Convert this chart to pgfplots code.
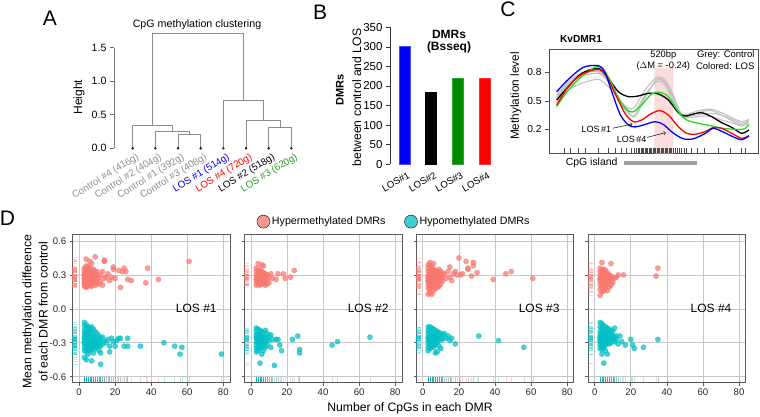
\documentclass[border=0pt]{standalone}
\usepackage{pgfplots}
\pgfplotsset{compat=1.18}
\usepackage{pgfplotstable}
\usepackage{fontspec}
\setmainfont{Liberation Sans}
\definecolor{hypc}{HTML}{F8766D}
\definecolor{hypo}{HTML}{00BFC4}
\definecolor{ctrlgray}{HTML}{8C8C8C}
\definecolor{dgreen}{HTML}{008A00}
\definecolor{lgreen}{HTML}{2A9A2A}
\definecolor{cgreen}{HTML}{22DD22}
\definecolor{linegray}{HTML}{C2C2C2}
\definecolor{pinkbg}{HTML}{FBDCDC}
\newcommand{\fs}[1]{\fontsize{#1}{#1}\selectfont}

% ---------- Panel D data: hyper (h) and hypo (o) for LOS #1..#4 ----------
\pgfplotstableread[row sep=\\]{x y\\
3 0.20\\3 0.22\\3 0.24\\3 0.26\\3 0.28\\3 0.30\\3 0.32\\3 0.34\\3 0.23\\3 0.27\\3 0.31\\3 0.36\\
4 0.19\\4 0.21\\4 0.25\\4 0.27\\4 0.29\\4 0.33\\4 0.35\\4 0.38\\4 0.24\\4 0.30\\4 0.44\\
5 0.20\\5 0.22\\5 0.26\\5 0.28\\5 0.31\\5 0.34\\5 0.37\\5 0.24\\5 0.29\\5 0.32\\
6 0.21\\6 0.23\\6 0.25\\6 0.28\\6 0.30\\6 0.33\\6 0.36\\6 0.27\\6 0.42\\
7 0.20\\7 0.24\\7 0.27\\7 0.29\\7 0.32\\7 0.35\\7 0.40\\
8 0.22\\8 0.26\\8 0.28\\8 0.31\\8 0.35\\8 0.25\\
9 0.21\\9 0.25\\9 0.29\\9 0.33\\9 0.46\\
10 0.23\\10 0.27\\10 0.30\\10 0.33\\
11 0.28\\11 0.22\\12 0.24\\12 0.30\\13 0.21\\13 0.33\\14 0.43\\14 0.42\\14 0.27\\15 0.28\\
16 0.31\\17 0.25\\18 0.28\\19 0.37\\19 0.35\\20 0.27\\22 0.34\\23 0.19\\24 0.33\\25 0.36\\
26 0.33\\27 0.26\\29 0.25\\37 0.23\\38 0.36\\44 0.26\\61 0.42\\
}\hA
\pgfplotstableread[row sep=\\]{x y\\
3 -0.12\\3 -0.15\\3 -0.19\\3 -0.22\\3 -0.25\\3 -0.28\\3 -0.31\\3 -0.34\\3 -0.37\\3 -0.43\\3 -0.26\\3 -0.30\\
4 -0.14\\4 -0.18\\4 -0.21\\4 -0.24\\4 -0.27\\4 -0.29\\4 -0.32\\4 -0.35\\4 -0.38\\4 -0.45\\4 -0.23\\
5 -0.16\\5 -0.20\\5 -0.23\\5 -0.26\\5 -0.28\\5 -0.31\\5 -0.33\\5 -0.36\\5 -0.40\\5 -0.25\\
6 -0.17\\6 -0.19\\6 -0.22\\6 -0.27\\6 -0.30\\6 -0.34\\6 -0.37\\6 -0.29\\
7 -0.16\\7 -0.21\\7 -0.25\\7 -0.28\\7 -0.32\\7 -0.36\\7 -0.46\\
8 -0.18\\8 -0.24\\8 -0.27\\8 -0.30\\8 -0.33\\8 -0.39\\
9 -0.20\\9 -0.25\\9 -0.29\\9 -0.31\\9 -0.35\\
10 -0.22\\10 -0.27\\10 -0.30\\10 -0.34\\
11 -0.24\\11 -0.28\\11 -0.32\\11 -0.37\\
12 -0.26\\12 -0.29\\12 -0.33\\12 -0.39\\12 -0.49\\
13 -0.25\\13 -0.31\\14 -0.28\\15 -0.30\\16 -0.27\\17 -0.38\\17 -0.33\\18 -0.26\\19 -0.29\\20 -0.33\\
21 -0.28\\22 -0.26\\23 -0.26\\25 -0.33\\27 -0.33\\27 -0.26\\34 -0.33\\47 -0.30\\53 -0.33\\56 -0.40\\
57 -0.34\\79 -0.40\\
}\oA
\pgfplotstableread[row sep=\\]{x y\\
3 0.21\\3 0.24\\3 0.27\\3 0.30\\3 0.33\\3 0.36\\3 0.26\\
4 0.22\\4 0.25\\4 0.28\\4 0.31\\4 0.34\\4 0.23\\4 0.40\\
5 0.21\\5 0.26\\5 0.29\\5 0.32\\5 0.35\\5 0.28\\
6 0.23\\6 0.27\\6 0.30\\6 0.33\\6 0.39\\
7 0.22\\7 0.25\\7 0.29\\7 0.32\\7 0.38\\
8 0.24\\8 0.28\\8 0.31\\8 0.21\\
9 0.26\\9 0.30\\9 0.22\\
10 0.23\\10 0.28\\
11 0.31\\12 0.27\\14 0.26\\15 0.31\\18 0.31\\19 0.27\\22 0.28\\24 0.34\\
}\hB
\pgfplotstableread[row sep=\\]{x y\\
3 -0.17\\3 -0.20\\3 -0.23\\3 -0.26\\3 -0.29\\3 -0.32\\3 -0.35\\3 -0.38\\3 -0.25\\
4 -0.18\\4 -0.22\\4 -0.25\\4 -0.28\\4 -0.31\\4 -0.34\\4 -0.37\\4 -0.27\\
5 -0.19\\5 -0.23\\5 -0.26\\5 -0.29\\5 -0.32\\5 -0.35\\5 -0.48\\5 -0.24\\
6 -0.20\\6 -0.24\\6 -0.28\\6 -0.31\\6 -0.34\\6 -0.40\\6 -0.26\\
7 -0.21\\7 -0.25\\7 -0.29\\7 -0.33\\7 -0.37\\
8 -0.19\\8 -0.26\\8 -0.30\\8 -0.34\\
9 -0.22\\9 -0.27\\9 -0.32\\
10 -0.24\\10 -0.28\\11 -0.23\\11 -0.34\\
12 -0.27\\13 -0.50\\14 -0.27\\15 -0.27\\16 -0.32\\17 -0.37\\23 -0.27\\26 -0.24\\27 -0.36\\27 -0.39\\
45 -0.32\\48 -0.29\\66 -0.25\\
}\oB
\pgfplotstableread[row sep=\\]{x y\\
3 0.13\\3 0.18\\3 0.21\\3 0.24\\3 0.27\\3 0.30\\3 0.33\\3 0.36\\3 0.39\\3 0.25\\3 0.28\\
4 0.14\\4 0.17\\4 0.20\\4 0.23\\4 0.26\\4 0.29\\4 0.32\\4 0.35\\4 0.38\\4 0.41\\4 0.27\\
5 0.13\\5 0.19\\5 0.22\\5 0.25\\5 0.28\\5 0.31\\5 0.34\\5 0.37\\5 0.24\\5 0.30\\
6 0.16\\6 0.20\\6 0.23\\6 0.26\\6 0.29\\6 0.32\\6 0.35\\6 0.40\\6 0.27\\
7 0.18\\7 0.21\\7 0.25\\7 0.28\\7 0.31\\7 0.34\\7 0.30\\
8 0.19\\8 0.22\\8 0.26\\8 0.29\\8 0.33\\8 0.27\\
9 0.20\\9 0.24\\9 0.27\\9 0.31\\9 0.35\\
10 0.22\\10 0.26\\10 0.30\\10 0.33\\
11 0.25\\11 0.28\\11 0.31\\
12 0.31\\13 0.27\\14 0.33\\15 0.37\\15 0.28\\16 0.25\\17 0.31\\18 0.33\\19 0.30\\20 0.45\\
21 0.30\\22 0.31\\24 0.42\\25 0.35\\25 0.36\\27 0.29\\28 0.41\\28 0.38\\30 0.32\\39 0.26\\
46 0.31\\49 0.33\\61 0.27\\
}\hC
\pgfplotstableread[row sep=\\]{x y\\
3 -0.16\\3 -0.19\\3 -0.22\\3 -0.25\\3 -0.28\\3 -0.31\\3 -0.34\\3 -0.37\\3 -0.26\\
4 -0.16\\4 -0.20\\4 -0.23\\4 -0.26\\4 -0.29\\4 -0.32\\4 -0.35\\4 -0.24\\
5 -0.17\\5 -0.21\\5 -0.24\\5 -0.27\\5 -0.30\\5 -0.33\\5 -0.25\\
6 -0.18\\6 -0.22\\6 -0.25\\6 -0.28\\6 -0.31\\6 -0.34\\
7 -0.19\\7 -0.23\\7 -0.26\\7 -0.29\\7 -0.32\\7 -0.39\\
8 -0.20\\8 -0.24\\8 -0.27\\8 -0.30\\8 -0.38\\
9 -0.21\\9 -0.25\\9 -0.28\\9 -0.33\\
10 -0.22\\10 -0.26\\10 -0.35\\11 -0.23\\11 -0.27\\
12 -0.22\\13 -0.26\\14 -0.24\\15 -0.28\\16 -0.26\\18 -0.31\\31 -0.24\\42 -0.28\\56 -0.34\\
}\oC
\pgfplotstableread[row sep=\\]{x y\\
3 0.12\\3 0.17\\3 0.21\\3 0.24\\3 0.27\\3 0.30\\3 0.33\\3 0.36\\3 0.26\\
4 0.15\\4 0.19\\4 0.22\\4 0.25\\4 0.28\\4 0.31\\4 0.34\\4 0.41\\4 0.27\\
5 0.16\\5 0.20\\5 0.23\\5 0.26\\5 0.29\\5 0.32\\5 0.35\\5 0.24\\
6 0.18\\6 0.21\\6 0.25\\6 0.28\\6 0.31\\6 0.34\\6 0.27\\
7 0.16\\7 0.22\\7 0.26\\7 0.29\\7 0.32\\
8 0.19\\8 0.24\\8 0.27\\8 0.30\\
9 0.21\\9 0.25\\9 0.29\\9 0.40\\
10 0.23\\10 0.28\\11 0.27\\
12 0.28\\13 0.30\\16 0.30\\34 0.29\\35 0.36\\
}\hD
\pgfplotstableread[row sep=\\]{x y\\
3 -0.12\\3 -0.16\\3 -0.20\\3 -0.23\\3 -0.26\\3 -0.29\\3 -0.32\\3 -0.35\\3 -0.25\\3 -0.28\\
4 -0.13\\4 -0.17\\4 -0.21\\4 -0.24\\4 -0.27\\4 -0.30\\4 -0.33\\4 -0.36\\4 -0.40\\4 -0.26\\
5 -0.15\\5 -0.19\\5 -0.22\\5 -0.25\\5 -0.28\\5 -0.31\\5 -0.34\\5 -0.48\\5 -0.27\\
6 -0.16\\6 -0.20\\6 -0.23\\6 -0.26\\6 -0.29\\6 -0.32\\6 -0.37\\
7 -0.17\\7 -0.21\\7 -0.24\\7 -0.27\\7 -0.30\\7 -0.40\\
8 -0.18\\8 -0.22\\8 -0.25\\8 -0.28\\8 -0.31\\
9 -0.19\\9 -0.23\\9 -0.26\\9 -0.30\\
10 -0.20\\10 -0.24\\10 -0.27\\11 -0.17\\11 -0.25\\11 -0.29\\12 -0.24\\12 -0.27\\
13 -0.31\\14 -0.24\\15 -0.29\\17 -0.32\\20 -0.27\\21 -0.32\\22 -0.35\\27 -0.34\\35 -0.27\\
}\oD
% CpG positions for the rug of panel C (y = rug height)
\pgfplotstableread[row sep=\\]{x y\\
57 -0.023\\75 -0.023\\100 -0.023\\122 -0.023\\160 -0.023\\190 -0.023\\210 -0.023\\230 -0.023\\245 -0.023\\258 -0.023\\
268 -0.023\\275 -0.023\\280 -0.023\\284 -0.023\\288 -0.023\\292 -0.023\\296 -0.023\\300 -0.023\\304 -0.023\\308 -0.023\\
312 -0.023\\316 -0.023\\320 -0.023\\324 -0.023\\328 -0.023\\332 -0.023\\336 -0.023\\340 -0.023\\344 -0.023\\348 -0.023\\
352 -0.023\\356 -0.023\\360 -0.023\\364 -0.023\\368 -0.023\\372 -0.023\\376 -0.023\\380 -0.023\\385 -0.023\\390 -0.023\\
396 -0.023\\402 -0.023\\410 -0.023\\418 -0.023\\425 -0.023\\440 -0.023\\458 -0.023\\478 -0.023\\520 -0.023\\557 -0.023\\
590 -0.023\\600 -0.023\\
}\cpg

\pgfplotsset{
  dpanel/.style={scale only axis, width=157.3pt, height=148.7pt,
    xmin=-3.5, xmax=83.7, ymin=-0.653, ymax=0.662,
    xtick={0,20,40,60,80}, ytick={-0.6,-0.3,0,0.3,0.6},
    grid=major, major grid style={black!22, line width=0.7pt},
    axis line style={black!65, line width=0.8pt},
    tick align=outside, xtick pos=bottom, ytick pos=left,
    tick style={black!65, line width=0.6pt}, major tick length=3pt,
    tick label style={font=\fs{9.6}, text=black!85},
    /pgf/number format/assume math mode=true,
    yticklabel style={/pgf/number format/.cd, fixed, fixed zerofill, precision=1},
    scaled y ticks=false},
  rugL/.style={only marks, mark=-, mark size=2.8pt, mark options={draw=#1, draw opacity=0.3, line width=0.5pt}},
  rugB/.style={only marks, mark=|, mark size=2.5pt, mark options={draw=#1, draw opacity=0.3, line width=0.5pt}},
  pts/.style={only marks, mark=*, mark size=2.6pt, mark options={fill=#1, draw=#1, fill opacity=0.72, draw opacity=0.72}},
  dend/.style={draw=black!45, line width=0.6pt, mark=none, sharp plot},
  cline/.style={draw=#1, smooth, mark=none},
}

\begin{document}
\begin{tikzpicture}
\path[use as bounding box] (0pt,0pt) rectangle (760pt,416pt);

% ================= Panel A: dendrogram =================
\begin{axis}[at={(114pt,267.7pt)}, anchor=south west, scale only axis,
  width=188.7pt, height=100.6pt, xmin=0.175, xmax=8.5, ymin=0, ymax=1.5, clip=false,
  axis y line=left, axis x line=bottom, axis line style={-},
  x axis line style={draw=none}, y axis line style={draw=black!55, line width=0.6pt},
  xtick={1,...,8}, xtick style={draw=none},
  xticklabels={{\textcolor{ctrlgray}{Control \#4 (416g)}},{\textcolor{ctrlgray}{Control \#2 (404g)}},{\textcolor{ctrlgray}{Control \#1 (392g)}},{\textcolor{ctrlgray}{Control \#3 (408g)}},{\textcolor{blue}{LOS \#1 (514g)}},{\textcolor{red}{LOS \#4 (720g)}},{\textcolor{black}{LOS \#2 (518g)}},{\textcolor{lgreen}{LOS \#3 (620g)}}},
  x tick label style={rotate=32, anchor=north east, font=\fs{9.8}, inner sep=0.5pt, xshift=3pt, yshift=-1pt},
  ytick={0,0.5,1,1.5}, ytick style={black!55, line width=0.6pt},
  tick align=outside, major tick length=4pt,
  y tick label style={font=\fs{10.6}},
  /pgf/number format/assume math mode=true,
  yticklabel style={/pgf/number format/.cd, fixed, fixed zerofill, precision=1}]
\addplot[dend] coordinates {(3,0)(3,0.209)(4,0.209)(4,0)};
\addplot[dend] coordinates {(2,0)(2,0.253)(3.5,0.253)(3.5,0.209)};
\addplot[dend] coordinates {(1,0)(1,0.337)(2.75,0.337)(2.75,0.253)};
\addplot[dend] coordinates {(7,0)(7,0.32)(8,0.32)(8,0)};
\addplot[dend] coordinates {(6,0)(6,0.42)(7.5,0.42)(7.5,0.32)};
\addplot[dend] coordinates {(5,0)(5,0.72)(6.75,0.72)(6.75,0.42)};
\addplot[dend] coordinates {(1.875,0.337)(1.875,1.716)(5.875,1.716)(5.875,0.72)};
\addplot[only marks, mark=*, mark size=1pt, mark options={fill=blue!70!cyan, draw=none}] coordinates {(1,0)(2,0)(3,0)(4,0)};
\addplot[only marks, mark=*, mark size=1pt, mark options={fill=red, draw=none}] coordinates {(5,0)(6,0)(7,0)(8,0)};
\end{axis}
\node[font=\fs{21}] at (50pt,398pt) {A};
\node[font=\fs{10.7}] at (197pt,391pt) {CpG methylation clustering};
\node[font=\fs{12}, rotate=90] at (79pt,319pt) {Height};

% ================= Panel B: bars =================
\begin{axis}[at={(390pt,251.7pt)}, anchor=south west, scale only axis,
  width=110.4pt, height=137pt, xmin=0.464, xmax=4.6, ymin=0, ymax=350, clip=false,
  axis y line=left, axis x line=bottom, axis line style={-},
  x axis line style={draw=none}, y axis line style={draw=black!80, line width=0.6pt},
  xtick={1,2,3,4}, xticklabels={LOS\#1,LOS\#2,LOS\#3,LOS\#4}, xtick style={draw=none},
  x tick label style={rotate=30, anchor=north east, font=\fs{9.6}, inner sep=1pt, xshift=2pt, yshift=-3pt},
  ytick={0,50,...,350}, ytick style={black!80, line width=0.6pt},
  tick align=outside, major tick length=4pt,
  y tick label style={font=\fs{11.5}},
  /pgf/number format/assume math mode=true]
\addplot[ybar, bar width=11pt, fill=blue, draw=blue!70] coordinates {(1,302)};
\addplot[ybar, bar width=11pt, fill=black, draw=black] coordinates {(2,185)};
\addplot[ybar, bar width=11pt, fill=dgreen, draw=dgreen!80] coordinates {(3,221)};
\addplot[ybar, bar width=11pt, fill=red, draw=red!80] coordinates {(4,221)};
\end{axis}
\node[font=\fs{21}] at (320pt,404pt) {B};
\node[font=\bfseries\fs{12}] at (449pt,382pt) {DMRs};
\node[font=\bfseries\fs{12}] at (449pt,368.5pt) {(Bsseq)};
\node[font=\bfseries\fs{11}, rotate=90] at (340pt,326pt) {DMRs};
\node[font=\fs{12.2}, rotate=90] at (356.7pt,318.5pt) {between control and LOS};

% ================= Panel C: KvDMR1 =================
\begin{axis}[at={(549pt,262.7pt)}, anchor=south west, scale only axis,
  width=209.3pt, height=104.3pt, xmin=12, xmax=640, ymin=-0.053, ymax=1.046, clip=false,
  axis line style={black!70, line width=0.8pt},
  xtick=\empty, ytick={0.2,0.5,0.8}, ytick pos=left, tick align=outside,
  major tick length=4pt, ytick style={black!70, line width=0.6pt},
  y tick label style={font=\fs{10.2}},
  /pgf/number format/assume math mode=true,
  yticklabel style={/pgf/number format/.cd, fixed, fixed zerofill, precision=1}]
\addplot[fill=pinkbg, draw=none, sharp plot, mark=none] coordinates {(328,-0.053)(385,-0.053)(385,0.85)(328,0.85)(328,-0.053)};
\addplot[only marks, mark=|, mark size=2.2pt, mark options={draw=black!70, line width=0.4pt}] table[x=x, y=y] {\cpg};
\addplot[cline=linegray, line width=1.1pt] coordinates {(35,0.561)(70,0.702)(110,0.789)(160,0.807)(190,0.702)(220,0.526)(250,0.421)(270,0.439)(300,0.614)(335,0.747)(360,0.719)(385,0.561)(410,0.351)(440,0.340)(470,0.361)(500,0.368)(530,0.351)(565,0.298)(590,0.263)(612,0.291)};
\addplot[cline=linegray, line width=1.1pt] coordinates {(35,0.526)(70,0.667)(110,0.761)(160,0.789)(190,0.702)(220,0.509)(250,0.368)(270,0.351)(300,0.544)(335,0.719)(360,0.691)(385,0.526)(410,0.340)(440,0.351)(470,0.386)(500,0.396)(530,0.351)(565,0.281)(590,0.246)(612,0.281)};
\addplot[cline=linegray, line width=1.1pt] coordinates {(35,0.491)(70,0.614)(110,0.684)(160,0.726)(190,0.649)(220,0.526)(250,0.404)(270,0.386)(300,0.561)(335,0.702)(360,0.667)(385,0.491)(410,0.333)(440,0.326)(470,0.340)(500,0.333)(530,0.298)(565,0.263)(590,0.235)(612,0.263)};
\addplot[cline=linegray, line width=1.1pt] coordinates {(35,0.544)(70,0.684)(110,0.775)(160,0.817)(190,0.719)(220,0.544)(250,0.386)(270,0.333)(300,0.526)(335,0.726)(360,0.702)(385,0.544)(410,0.361)(440,0.375)(470,0.404)(500,0.410)(530,0.375)(565,0.316)(590,0.281)(612,0.305)};
\addplot[cline=black, line width=1.3pt] coordinates {(35,0.509)(70,0.649)(110,0.789)(160,0.842)(190,0.737)(220,0.596)(250,0.544)(280,0.551)(310,0.579)(340,0.572)(370,0.509)(400,0.375)(420,0.340)(445,0.361)(470,0.375)(500,0.333)(530,0.270)(560,0.221)(590,0.158)(612,0.193)};
\addplot[cline=cgreen, line width=1.3pt] coordinates {(35,0.439)(70,0.614)(110,0.754)(160,0.867)(190,0.754)(220,0.526)(245,0.404)(265,0.386)(290,0.456)(320,0.572)(345,0.589)(370,0.544)(400,0.386)(425,0.298)(460,0.263)(500,0.235)(530,0.211)(570,0.200)(595,0.200)(612,0.246)};
\addplot[cline=red, line width=1.3pt] coordinates {(35,0.456)(70,0.649)(110,0.779)(160,0.832)(185,0.754)(210,0.579)(240,0.368)(265,0.281)(290,0.298)(320,0.368)(345,0.396)(370,0.351)(400,0.228)(425,0.158)(450,0.147)(480,0.175)(505,0.218)(530,0.211)(560,0.158)(590,0.105)(612,0.133)};
\addplot[cline=blue, line width=1.3pt] coordinates {(35,0.596)(70,0.726)(115,0.853)(160,0.870)(180,0.80)(200,0.60)(225,0.36)(250,0.245)(270,0.225)(295,0.245)(330,0.28)(355,0.25)(385,0.16)(415,0.10)(445,0.10)(480,0.155)(505,0.21)(535,0.17)(565,0.12)(590,0.09)(612,0.13)};
\addplot[sharp plot, mark=none, draw=gray!75, line width=4pt] coordinates {(237,-0.158)(455,-0.158)};
\draw[->, line width=0.5pt] (axis cs:203,0.211) -- (axis cs:262,0.256);
\draw[->, line width=0.5pt] (axis cs:306,0.114) -- (axis cs:362,0.165);
\node[font=\fs{9}] at (axis cs:154,0.20) {LOS\,\#1};
\node[font=\fs{9}] at (axis cs:260,0.098) {LOS\,\#4};
\node[font=\fs{9.3}] at (axis cs:355,0.982) {520bp};
\node[font=\fs{9.3}] at (axis cs:355,0.867) {($\Delta$M = -0.24)};
\node[font=\fs{9.5}, anchor=east, inner sep=0pt] at (axis cs:629,0.982) {Grey: Control};
\node[font=\fs{9.5}, anchor=east, inner sep=0pt] at (axis cs:629,0.867) {Colored: LOS};
\node[font=\fs{10.4}] at (axis cs:140,-0.158) {CpG island};
\end{axis}
\node[font=\fs{21}] at (508pt,407pt) {C};
\node[font=\bfseries\fs{10.2}] at (581pt,376.7pt) {KvDMR1};
\node[font=\fs{11.8}, rotate=90] at (515.7pt,320pt) {Methylation level};

% ================= Panel D: four scatter panels =================
\begin{axis}[dpanel, at={(72.7pt,33.3pt)}, anchor=south west,
  legend columns=2,
  legend style={at={(axis description cs:1.151,1.083)}, anchor=west, draw=none, fill=none,
    font=\fs{10.7}, /tikz/every even column/.append style={column sep=17pt}}]
\addlegendimage{only marks, mark=*, mark size=6.5pt, mark options={fill=hypc, draw=none, fill opacity=0.75}}
\addlegendentry{Hypermethylated DMRs}
\addlegendimage{only marks, mark=*, mark size=6.5pt, mark options={fill=hypo, draw=none, fill opacity=0.75}}
\addlegendentry{Hypomethylated DMRs}
\addplot[rugL=hypc] table[x expr=-2.4, y=y] {\hA};
\addplot[rugL=hypo] table[x expr=-2.4, y=y] {\oA};
\addplot[rugB=hypc] table[x=x, y expr=-0.623] {\hA};
\addplot[rugB=hypo] table[x=x, y expr=-0.623] {\oA};
\addplot[pts=hypc] table[x=x, y=y] {\hA};
\addplot[pts=hypo] table[x=x, y=y] {\oA};
\node[font=\fs{12}] at (axis cs:65,0) {LOS \#1};
\end{axis}

\begin{axis}[dpanel, at={(244.6pt,33.3pt)}, anchor=south west, yticklabels={}]
\addplot[rugL=hypc] table[x expr=-2.4, y=y] {\hB};
\addplot[rugL=hypo] table[x expr=-2.4, y=y] {\oB};
\addplot[rugB=hypc] table[x=x, y expr=-0.623] {\hB};
\addplot[rugB=hypo] table[x=x, y expr=-0.623] {\oB};
\addplot[pts=hypc] table[x=x, y=y] {\hB};
\addplot[pts=hypo] table[x=x, y=y] {\oB};
\node[font=\fs{12}] at (axis cs:65,0) {LOS \#2};
\end{axis}

\begin{axis}[dpanel, at={(416.5pt,33.3pt)}, anchor=south west, yticklabels={}]
\addplot[rugL=hypc] table[x expr=-2.4, y=y] {\hC};
\addplot[rugL=hypo] table[x expr=-2.4, y=y] {\oC};
\addplot[rugB=hypc] table[x=x, y expr=-0.623] {\hC};
\addplot[rugB=hypo] table[x=x, y expr=-0.623] {\oC};
\addplot[pts=hypc] table[x=x, y=y] {\hC};
\addplot[pts=hypo] table[x=x, y=y] {\oC};
\node[font=\fs{12}] at (axis cs:64.5,0) {LOS \#3};
\end{axis}

\begin{axis}[dpanel, at={(588.4pt,33.3pt)}, anchor=south west, yticklabels={}]
\addplot[rugL=hypc] table[x expr=-2.4, y=y] {\hD};
\addplot[rugL=hypo] table[x expr=-2.4, y=y] {\oD};
\addplot[rugB=hypc] table[x=x, y expr=-0.623] {\hD};
\addplot[rugB=hypo] table[x=x, y expr=-0.623] {\oD};
\addplot[pts=hypc] table[x=x, y=y] {\hD};
\addplot[pts=hypo] table[x=x, y=y] {\oD};
\node[font=\fs{12}] at (axis cs:64.5,0) {LOS \#4};
\end{axis}

\node[font=\fs{21}] at (7.5pt,197.7pt) {D};
\node[font=\fs{12.3}, rotate=90] at (28.3pt,104.3pt) {Mean methylation difference};
\node[font=\fs{12.3}, rotate=90] at (43.3pt,104.3pt) {of each DMR from control};
\node[font=\fs{12.2}] at (410pt,7.7pt) {Number of CpGs in each DMR};
\end{tikzpicture}
\end{document}
